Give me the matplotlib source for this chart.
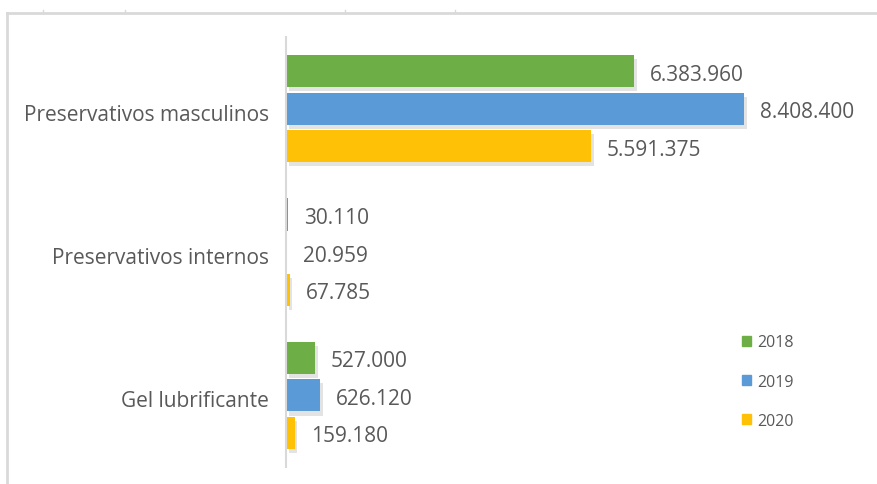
import matplotlib.pyplot as plt
from matplotlib.lines import Line2D
from matplotlib.patches import Patch
from matplotlib.transforms import ScaledTranslation
import matplotlib.patheffects as pe
import numpy as np

plt.rcParams['font.family'] = ['Open Sans', 'DejaVu Sans']

categories = ['Preservativos masculinos', 'Preservativos internos', 'Gel lubrificante']
years = ['2018', '2019', '2020']
values_2018 = [6383960, 30110, 527000]
values_2019 = [8408400, 20959, 626120]
values_2020 = [5591375, 67785, 159180]
colors = ['#6eae46', '#5a9ad6', '#fec105']

TEXT = '#595959'
GRID = '#d9d9d9'

W, H = 877, 485
fig = plt.figure(figsize=(W / 100, H / 100), dpi=100)

# plot area in pixel terms
ax_left, ax_top, ax_bottom = 286, 38, 468
ax = fig.add_axes([ax_left / W, 1 - ax_bottom / H, (W - ax_left) / W, (ax_bottom - ax_top) / H])

slot = 0.262
bar_h = 0.224
y = np.arange(len(categories))
series = [values_2018, values_2019, values_2020]
shadow = [pe.SimplePatchShadow(offset=(2, -3), shadow_rgbFace='#b0b0b0', alpha=0.35), pe.Normal()]

for i, (vals, yr, c) in enumerate(zip(series, years, colors)):
    pos = y + (i - 1) * slot
    bars = ax.barh(pos, vals, height=bar_h, color=c, label=yr, zorder=2)
    for b, v in zip(bars, vals):
        if v > 50000:
            b.set_path_effects(shadow)
    for p, v in zip(pos, vals):
        ax.annotate(f'{v:,}'.replace(',', '.'), (v, p), xytext=(16, -3),
                    textcoords='offset pixels', va='center', ha='left',
                    fontsize=15, color=TEXT)

ax.set_ylim(2.5, -0.5)
ax.set_xlim(0, (W - ax_left) / (348 / 6383960))
ax.set_yticks(y)
ax.set_yticklabels(categories, fontsize=15, color=TEXT)
ax.tick_params(axis='y', length=0, pad=12)
nudge = ScaledTranslation(0, -3 / 100, fig.dpi_scale_trans)
for lbl in ax.get_yticklabels():
    lbl.set_transform(lbl.get_transform() + nudge)
ax.set_xticks([])
for s in ['top', 'right', 'bottom']:
    ax.spines[s].set_visible(False)
ax.spines['left'].set_color(GRID)
ax.spines['left'].set_linewidth(1.5)
ax.patch.set_alpha(0)

handles = [Patch(color=c, label=yr) for yr, c in zip(years, colors)]
fig.legend(handles=handles, loc='upper left', bbox_to_anchor=(728 / W, 1 - 321 / H),
           frameon=False, fontsize=11.5, labelcolor=TEXT, handlelength=0.55,
           handleheight=0.55, handletextpad=0.4, labelspacing=1.45)

# outer frame of the sheet cell
px = lambda x: x / W
py = lambda yy: 1 - yy / H
fig.add_artist(Line2D([px(7), px(W)], [py(14), py(14)], color=GRID, lw=2))
fig.add_artist(Line2D([px(7), px(7)], [py(14), py(H)], color=GRID, lw=2))
for tx in [43, 125, 345, 455]:
    fig.add_artist(Line2D([px(tx), px(tx)], [py(11), py(14)], color=GRID, lw=1))

fig.savefig('out.png', dpi=100)
